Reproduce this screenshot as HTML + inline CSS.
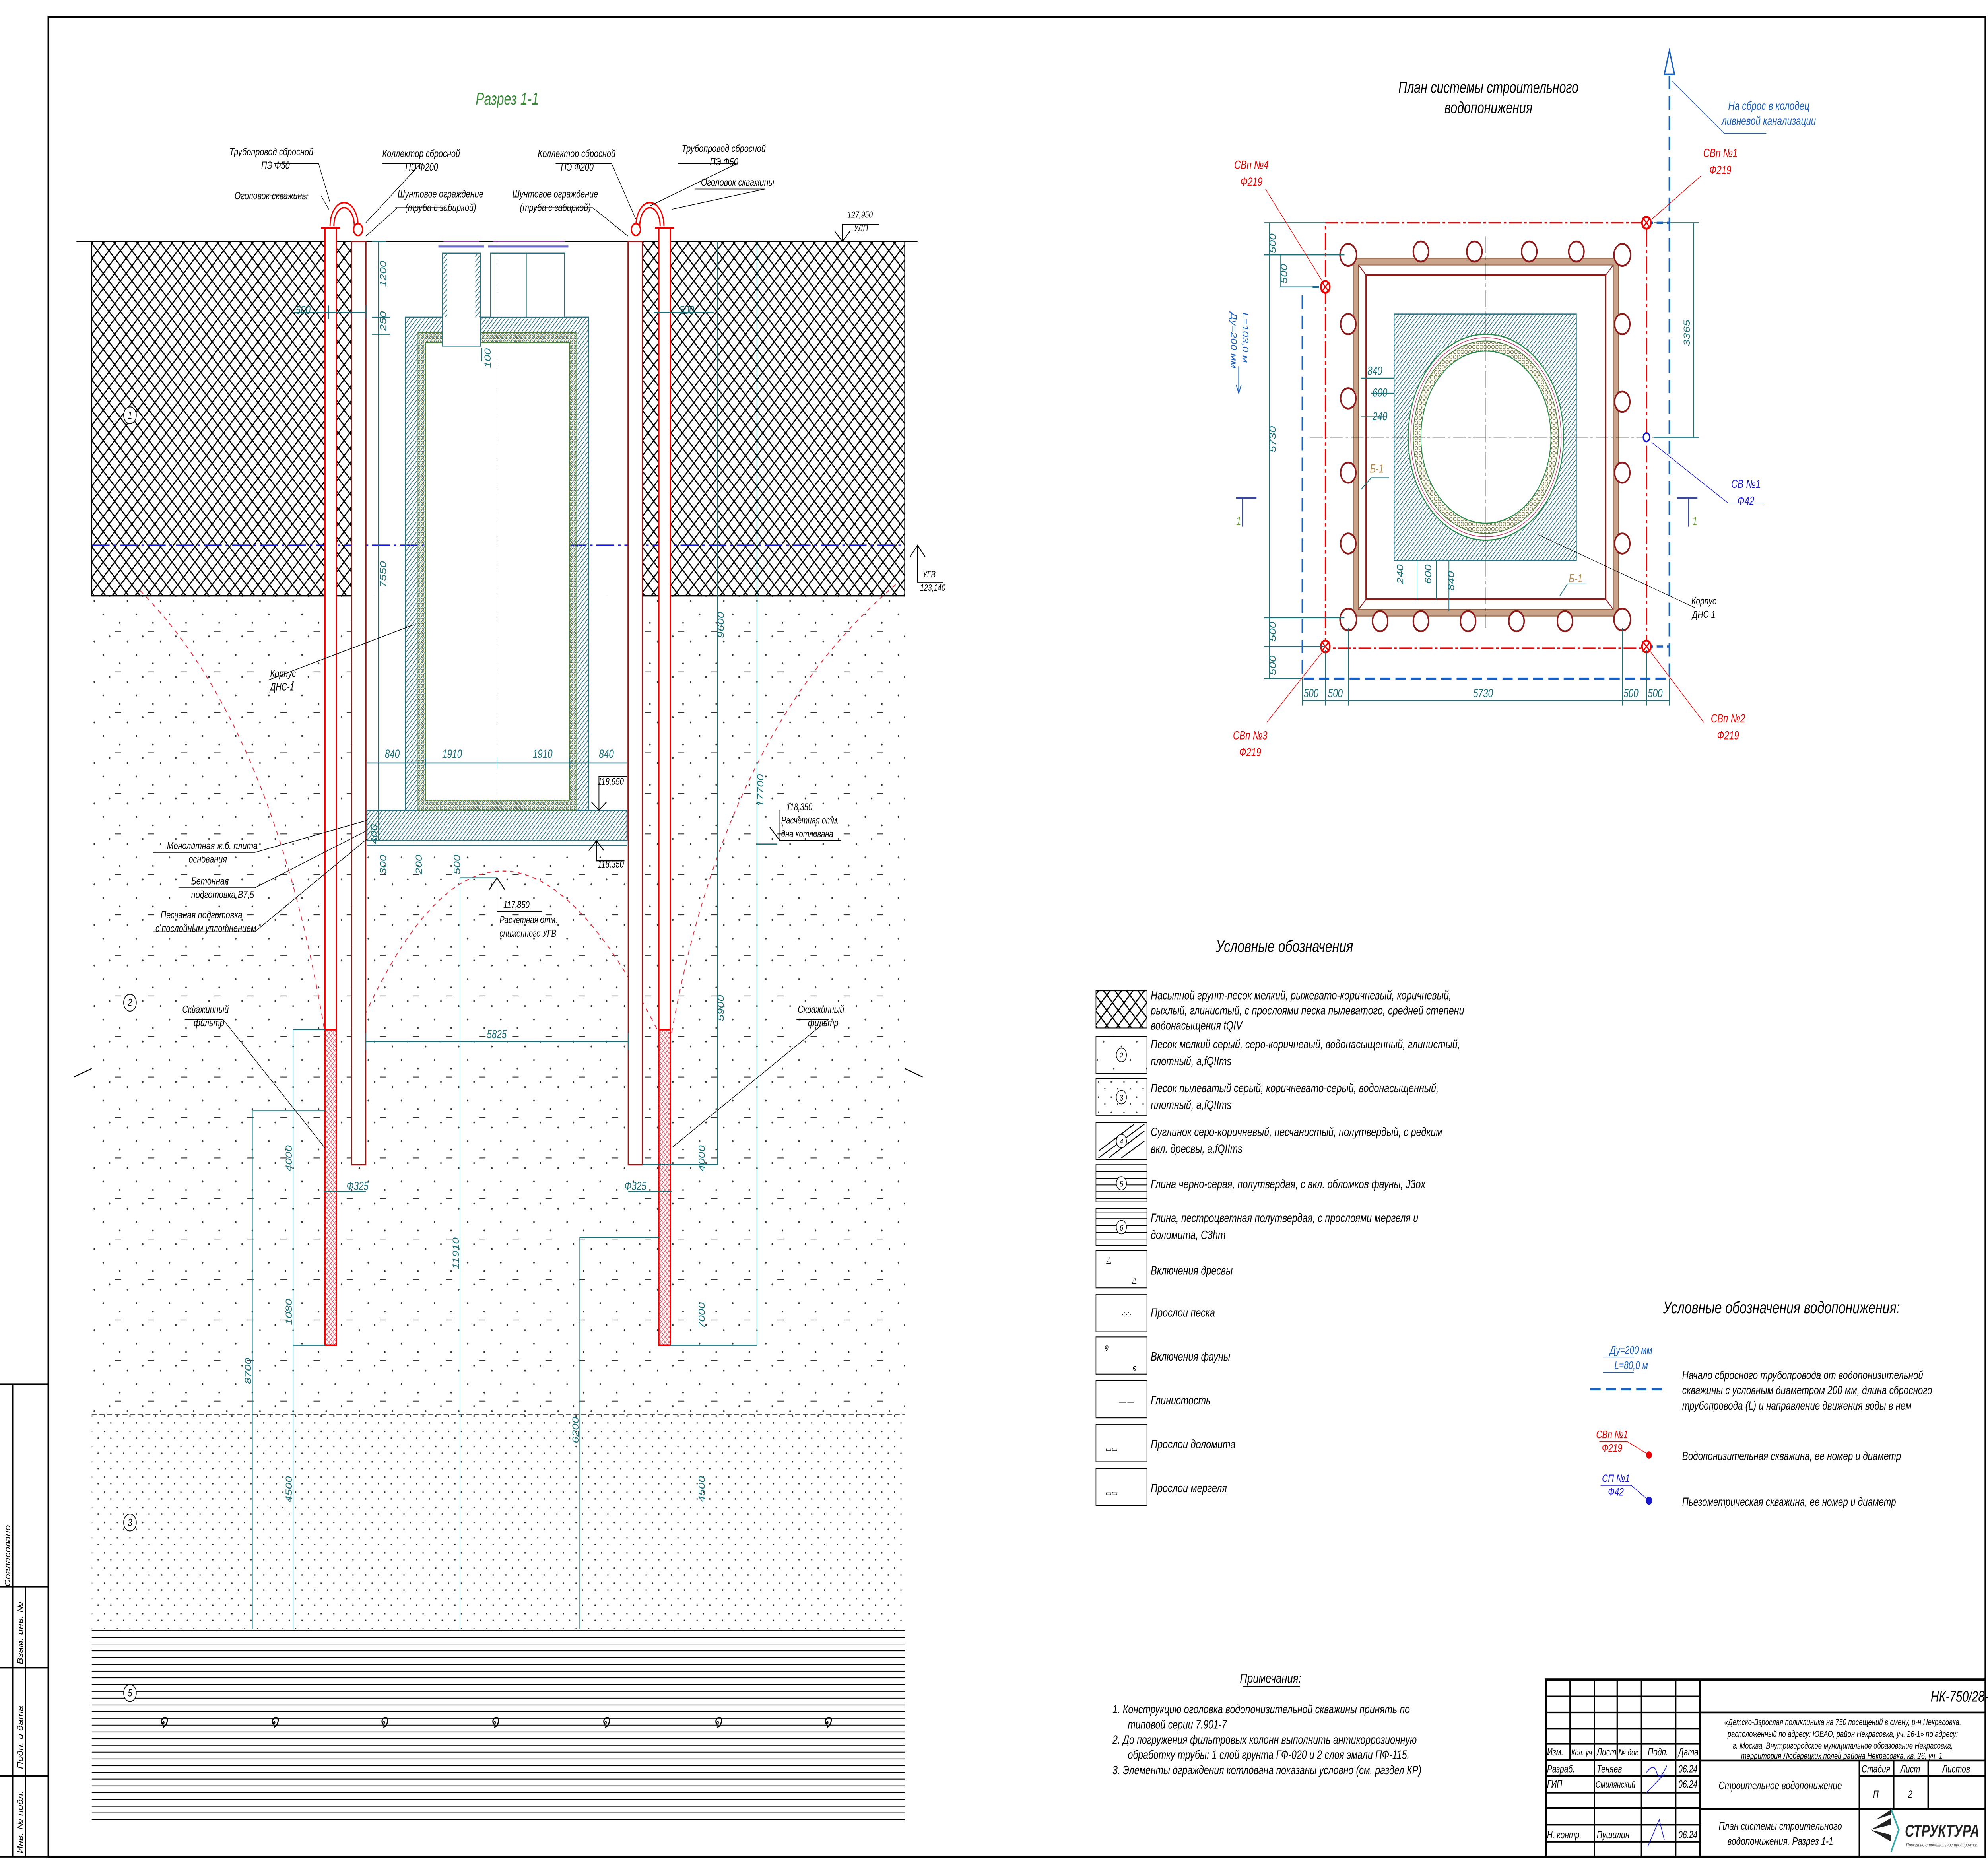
<!DOCTYPE html>
<html><head><meta charset="utf-8"><style>
html,body{margin:0;padding:0;background:#fff;overflow:hidden;width:100vw;height:100vh}
svg{display:block;position:absolute;left:0;top:0;width:100vw;height:100vh}
text{font-family:"Liberation Sans",sans-serif;font-style:italic}
</style></head><body>
<svg viewBox="0 0 1560 1101.9" preserveAspectRatio="none" xmlns="http://www.w3.org/2000/svg">
<defs>
<pattern id="xh" width="9" height="9" patternUnits="userSpaceOnUse"><path d="M0 0L9 9M9 0L0 9" stroke="#000" stroke-width="0.8"/></pattern>
<pattern id="sand" width="26" height="24" patternUnits="userSpaceOnUse"><circle cx="3" cy="4" r="0.6" fill="#333"/><circle cx="16" cy="9" r="0.6" fill="#333"/><circle cx="8" cy="17" r="0.6" fill="#333"/><circle cx="22" cy="20" r="0.6" fill="#333"/><path d="M12 14h5" stroke="#333" stroke-width="0.5"/></pattern>
<pattern id="sand3" width="10" height="9" patternUnits="userSpaceOnUse"><circle cx="2" cy="2" r="0.5" fill="#333"/><circle cx="7" cy="6" r="0.5" fill="#333"/></pattern>
<pattern id="th" width="3" height="3" patternUnits="userSpaceOnUse"><path d="M0 3L3 0" stroke="#2a6f80" stroke-width="0.5"/></pattern>
<pattern id="hc" width="3" height="3" patternUnits="userSpaceOnUse"><circle cx="1.5" cy="1.5" r="1.1" fill="none" stroke="#6b6b2a" stroke-width="0.35"/></pattern>
<pattern id="rh" width="3" height="3" patternUnits="userSpaceOnUse"><path d="M0 3L3 0M0 0L3 3" stroke="#e05060" stroke-width="0.35"/></pattern>
<pattern id="hl" width="10" height="4" patternUnits="userSpaceOnUse"><path d="M0 2h10" stroke="#000" stroke-width="0.5"/></pattern>
</defs>

<rect x="38" y="10" width="1520" height="1090" fill="none" stroke="#000" stroke-width="1.4"/>
<g stroke="#000" stroke-width="0.9" fill="none">
<path d="M0 820H38M0 940H38M0 988H38M0 1052H38M0 1100H38M10 820V1100M20 940V1100"/>
</g>
<g font-size="6" fill="#000">
<text transform="translate(8,940) rotate(-90)">Согласовано</text>
<text transform="translate(18,986) rotate(-90)">Взам. инв. №</text>
<text transform="translate(18,1048) rotate(-90)">Подп. и дата</text>
<text transform="translate(18,1098) rotate(-90)">Инв. № подл.</text>
</g>

<text x="398" y="62" font-size="10" fill="#3a8a3a" text-anchor="middle">Разрез 1-1</text>

<rect x="72" y="353" width="638" height="485" fill="url(#sand)"/>
<rect x="287" y="353" width="206" height="145" fill="#fff"/>
<rect x="72" y="838" width="638" height="127" fill="url(#sand3)"/>
<path d="M72 838H710" stroke="#555" stroke-width="0.4" stroke-dasharray="4 2"/>
<rect x="72" y="965" width="638" height="115" fill="url(#hl)"/>
<rect x="72" y="143" width="215" height="210" fill="url(#xh)" stroke="#000" stroke-width="0.8"/>
<rect x="493" y="143" width="217" height="210" fill="url(#xh)" stroke="#000" stroke-width="0.8"/>
<path d="M60 143H720" stroke="#000" stroke-width="0.8"/>
<path d="M58 638L72 633M710 633L724 638" stroke="#000" stroke-width="0.6"/>
<g font-size="10" fill="#000">
<text x="125" y="1023">໑</text><text x="212" y="1023">໑</text><text x="298" y="1023">໑</text><text x="385" y="1023">໑</text><text x="472" y="1023">໑</text><text x="560" y="1023">໑</text><text x="646" y="1023">໑</text>
</g>
<g fill="#fff" stroke="#000" stroke-width="0.5">
<circle cx="102" cy="246" r="5"/><circle cx="102" cy="594" r="5"/><circle cx="102" cy="902" r="5"/><circle cx="102" cy="1003" r="5"/>
</g>
<g font-size="6" fill="#000" text-anchor="middle"><text x="102" y="248">1</text><text x="102" y="596">2</text><text x="102" y="904">3</text><text x="102" y="1005">5</text></g>

<path d="M72 323H710" stroke="#1a1acc" stroke-width="0.9" stroke-dasharray="14 3 2 3"/>
<path d="M714 330L720 323L726 330M720 323V345H740" stroke="#000" stroke-width="0.6" fill="none"/>
<text x="724" y="342" font-size="5.5">УГВ</text><text x="722" y="350" font-size="5.5">123,140</text>
<path d="M655 137L661 143L667 137M661 143V133H690" stroke="#000" stroke-width="0.6" fill="none"/>
<text x="665" y="129" font-size="5.5">127,950</text><text x="670" y="137" font-size="5.5">УДП</text>

<g fill="none" stroke="#e03040" stroke-width="0.6" stroke-dasharray="3 3">
<path d="M110 350Q215 430 255 612"/>
<path d="M280 612Q390 420 517 612"/>
<path d="M527 612Q570 430 705 345"/>
</g>

<path d="M287 143V498M493 143V498" stroke="#8b1a1a" stroke-width="1.2"/>

<g>
<rect x="255" y="135" width="9" height="662" fill="#fff" stroke="#e00" stroke-width="1"/>
<rect x="255" y="610" width="9" height="187" fill="url(#rh)" stroke="#e00" stroke-width="1"/>
<rect x="517" y="135" width="9" height="662" fill="#fff" stroke="#e00" stroke-width="1"/>
<rect x="517" y="610" width="9" height="187" fill="url(#rh)" stroke="#e00" stroke-width="1"/>
<rect x="276" y="143" width="11" height="547" fill="#fff" stroke="#8b1a1a" stroke-width="0.9"/>
<rect x="493" y="143" width="11" height="547" fill="#fff" stroke="#8b1a1a" stroke-width="0.9"/>
<path d="M259 134A11 14 0 0 1 281 134M262 134A8 11 0 0 1 278 134" fill="none" stroke="#e00" stroke-width="0.9"/>
<path d="M499 134A11 14 0 0 1 521 134M502 134A8 11 0 0 1 518 134" fill="none" stroke="#e00" stroke-width="0.9"/>
<circle cx="281" cy="136" r="3.5" fill="#fff" stroke="#e00"/><circle cx="499" cy="136" r="3.5" fill="#fff" stroke="#e00"/>
<path d="M252 135H267M514 135H529" stroke="#e00" stroke-width="1"/>
</g>

<rect x="288" y="480" width="204" height="18" fill="url(#th)" stroke="#2a6f80" stroke-width="0.7"/>
<rect x="288" y="498" width="204" height="3" fill="#fff" stroke="#2a6f80" stroke-width="0.5"/>
<rect x="318" y="188" width="144" height="292" fill="url(#th)" stroke="#2a6f80" stroke-width="0.7"/>
<rect x="328" y="197" width="124" height="283" fill="url(#hc)" stroke="#4a7a3a" stroke-width="0.5"/>
<rect x="334" y="203" width="113" height="271" fill="#fff" stroke="#4a7a3a" stroke-width="0.6"/>
<rect x="347" y="150" width="30" height="55" fill="#fff" stroke="#2a6f80" stroke-width="0.6"/>
<rect x="347" y="150" width="4" height="38" fill="url(#th)"/><rect x="373" y="150" width="4" height="38" fill="url(#th)"/>
<rect x="385" y="150" width="30" height="38" fill="#fff" stroke="#2a6f80" stroke-width="0.6"/>
<rect x="413" y="150" width="30" height="38" fill="#fff" stroke="#2a6f80" stroke-width="0.6"/>
<path d="M344 146H380M383 146H418M411 146H446" stroke="#6a6acc" stroke-width="1.2"/>
<path d="M348 143H376M387 143H415M415 143H443" stroke="#8a3a9a" stroke-width="0.6"/>
<path d="M390 143V475" stroke="#000" stroke-width="0.3" stroke-dasharray="10 2 1 2"/>

<g stroke="#1a6e78" stroke-width="0.6" fill="none">
<path d="M297 143V498M292 188H306M292 198H306M292 143H303M292 498H303"/>
<path d="M288 452H492M318 449V455M334 449V455M390 449V455M447 449V455M462 449V455"/>
<path d="M230 185H287M258 181V189M287 181V189"/>
<path d="M513 185H560"/>
<path d="M563 143V690M594 143V797M504 690H563M526 797H594M594 500H610"/>
<path d="M230 610V965M198 658V965M230 610H255M198 658H255M230 797H255"/>
<path d="M361 520V965M361 520H390M455 733V965M455 733H517"/>
<path d="M287 617H493M287 612V622M493 612V622"/>
<path d="M254 706H287"/><path d="M493 706H527"/>
<path d="M378 206V214"/>
</g>
<g font-size="7" fill="#1a6e78">
<text transform="translate(303,170) rotate(-90)">1200</text>
<text transform="translate(303,196) rotate(-90)">250</text>
<text transform="translate(303,348) rotate(-90)">7550</text>
<text transform="translate(385,218) rotate(-90)">100</text>
<text x="302" y="449">840</text><text x="347" y="449">1910</text><text x="418" y="449">1910</text><text x="470" y="449">840</text>
<text x="232" y="186">500</text><text x="533" y="186">500</text>
<text transform="translate(568,378) rotate(-90)">9600</text>
<text transform="translate(599,478) rotate(-90)">17700</text>
<text transform="translate(568,605) rotate(-90)">5900</text>
<text transform="translate(553,694) rotate(-90)">4000</text>
<text transform="translate(553,787) rotate(-90)">7000</text>
<text transform="translate(553,890) rotate(-90)">4500</text>
<text transform="translate(229,694) rotate(-90)">4000</text>
<text transform="translate(229,785) rotate(-90)">1080</text>
<text transform="translate(229,890) rotate(-90)">4500</text>
<text transform="translate(197,820) rotate(-90)">8700</text>
<text transform="translate(360,752) rotate(-90)">11910</text>
<text transform="translate(454,855) rotate(-90)">6200</text>
<text x="382" y="615">5825</text>
<text x="272" y="705">Ф325</text><text x="490" y="705">Ф325</text>
<text transform="translate(303,518) rotate(-90)">300</text>
<text transform="translate(331,518) rotate(-90)">200</text>
<text transform="translate(361,518) rotate(-90)">500</text>
<text transform="translate(296,500) rotate(-90)">400</text>
</g>
<g stroke="#000" stroke-width="0.6" fill="none">
<path d="M464 475L470 480L476 475M470 480V460H492"/>
<path d="M462 504L468 498L474 504M468 498V510H490"/>
<path d="M384 527L390 520L396 527M390 520V540H425"/>
<path d="M604 490L612 498M612 480V498H660"/>
</g>
<g font-size="5.8" fill="#000">
<text x="469" y="465">118,950</text><text x="469" y="514">118,350</text>
<text x="395" y="538">117,850</text><text x="392" y="547">Расчетная отм.</text><text x="392" y="555">сниженного УГВ</text>
<text x="617" y="480">118,350</text><text x="613" y="488">Расчетная отм.</text><text x="613" y="496">дна котлована</text>
</g>

<g stroke="#000" stroke-width="0.4" fill="none">
<path d="M215 97H250L259 120M300 97H330L287 132M242 116H212M252 116L258 124M310 123H350M312 123L287 140"/>
<path d="M420 123H465L493 140M436 97H480L499 130M532 97H578L510 122M545 112H600L527 124"/>
<path d="M120 505H200L288 486M140 526H200L288 492M120 552H200L288 497"/>
<path d="M210 403L325 370M145 604H175L255 680M625 604H650L527 680"/>
</g>
<g font-size="6.2" fill="#000">
<text x="180" y="92">Трубопровод сбросной</text><text x="205" y="100">ПЭ Ф50</text>
<text x="184" y="118">Оголовок скважины</text>
<text x="300" y="93">Коллектор сбросной</text><text x="318" y="101">ПЭ Ф200</text>
<text x="312" y="117">Шунтовое ограждение</text><text x="318" y="125">(труба с забиркой)</text>
<text x="422" y="93">Коллектор сбросной</text><text x="440" y="101">ПЭ Ф200</text>
<text x="402" y="117">Шунтовое ограждение</text><text x="408" y="125">(труба с забиркой)</text>
<text x="535" y="90">Трубопровод сбросной</text><text x="557" y="98">ПЭ Ф50</text>
<text x="550" y="110">Оголовок скважины</text>
<text x="212" y="401">Корпус</text><text x="212" y="409">ДНС-1</text>
<text x="131" y="503">Монолитная ж.б. плита</text><text x="148" y="511">основания</text>
<text x="150" y="524">Бетонная</text><text x="150" y="532">подготовка В7,5</text>
<text x="126" y="544">Песчаная подготовка</text><text x="122" y="552">с послойным уплотнением</text>
<text x="143" y="600">Скважинный</text><text x="152" y="608">фильтр</text>
<text x="626" y="600">Скважинный</text><text x="634" y="608">фильтр</text>
</g>

<text x="1168" y="55" font-size="9.5" fill="#000" text-anchor="middle">План системы строительного</text>
<text x="1168" y="67" font-size="9.5" fill="#000" text-anchor="middle">водопонижения</text>
<path d="M1310 45V402H1022V174" stroke="#1a5fc0" stroke-width="1.3" fill="none" stroke-dasharray="8 4"/>
<path d="M1292 132H1310M1292 383H1310M1030 170H1040" stroke="#1a5fc0" stroke-width="1.3" stroke-dasharray="5 3"/>
<path d="M1306 44L1310 30L1314 44Z" fill="none" stroke="#1a5fc0" stroke-width="1"/>
<path d="M1312 48L1353 79H1386" stroke="#1a5fc0" stroke-width="0.4" fill="none"/>
<text x="1388" y="65" font-size="7" fill="#1a5fc0" text-anchor="middle">На сброс в колодец</text>
<text x="1388" y="74" font-size="7" fill="#1a5fc0" text-anchor="middle">ливневой канализации</text>

<rect x="1040" y="132" width="252" height="252" fill="none" stroke="#e00" stroke-width="0.9" stroke-dasharray="10 2 2 2"/>
<rect x="1062" y="153" width="208" height="212" fill="#c9a48a" stroke="#8b5a3a" stroke-width="0.5"/>
<rect x="1066" y="157" width="200" height="204" fill="#fff" stroke="#8b5a3a" stroke-width="0.5"/>
<rect x="1072" y="163" width="188" height="192" fill="none" stroke="#8b1a1a" stroke-width="1.1"/>
<path d="M1066 157L1072 163M1266 157L1260 163M1066 361L1072 355M1266 361L1260 355" stroke="#8b1a1a" stroke-width="0.6"/>
<rect x="1094" y="186" width="143" height="146" fill="url(#th)" stroke="#2a6f80" stroke-width="0.6"/>
<circle cx="1166" cy="259" r="61" fill="#fff" stroke="#2a8a4a" stroke-width="0.7"/>
<circle cx="1166" cy="259" r="59" fill="none" stroke="#c03060" stroke-width="0.4"/>
<circle cx="1166" cy="259" r="57" fill="url(#hc)" stroke="#4a7a3a" stroke-width="0.5"/>
<circle cx="1166" cy="259" r="51" fill="#fff" stroke="#2a8a4a" stroke-width="0.6"/>
<path d="M1166 140V372M1028 259H1300" stroke="#000" stroke-width="0.3" stroke-dasharray="10 2 2 2"/>
<g fill="#fff" stroke="#8b1a1a" stroke-width="1.1">
<circle cx="1058" cy="151" r="6.5"/><circle cx="1115" cy="149" r="6"/><circle cx="1157" cy="149" r="6"/><circle cx="1200" cy="149" r="6"/><circle cx="1237" cy="149" r="6"/><circle cx="1273" cy="151" r="6.5"/>
<circle cx="1058" cy="192" r="6"/><circle cx="1058" cy="236" r="6"/><circle cx="1058" cy="280" r="6"/><circle cx="1058" cy="322" r="6"/>
<circle cx="1273" cy="192" r="6"/><circle cx="1273" cy="238" r="6"/><circle cx="1273" cy="280" r="6"/><circle cx="1273" cy="322" r="6"/>
<circle cx="1058" cy="367" r="6.5"/><circle cx="1083" cy="368" r="6"/><circle cx="1115" cy="368" r="6"/><circle cx="1152" cy="368" r="6"/><circle cx="1190" cy="368" r="6"/><circle cx="1228" cy="368" r="6"/><circle cx="1273" cy="367" r="6.5"/>
</g>
<g fill="#fff" stroke="#e00" stroke-width="1.2">
<circle cx="1040" cy="170" r="3.5"/><circle cx="1292" cy="132" r="3.5"/><circle cx="1040" cy="383" r="3.5"/><circle cx="1292" cy="383" r="3.5"/>
</g>
<path d="M1037 167L1043 173M1043 167L1037 173M1289 129L1295 135M1295 129L1289 135M1037 380L1043 386M1043 380L1037 386M1289 380L1295 386M1295 380L1289 386" stroke="#e00" stroke-width="0.8"/>
<circle cx="1292" cy="259" r="2.5" fill="#fff" stroke="#1a1acc" stroke-width="1"/>
<g stroke="#1a6e78" stroke-width="0.6" fill="none">
<path d="M996 132V402M992 132H1040M992 151H1055M992 366H1055M992 383H1040M992 402H1022M1005 151V170H1035"/>
<path d="M1022 415H1310M1022 402V418M1040 385V418M1058 372V418M1273 372V418M1292 385V418M1310 402V418"/>
<path d="M1329 132V259M1298 132H1333M1298 259H1333"/>
<path d="M1068 224H1094M1076 233H1094M1068 247H1088M1112 332V355M1127 332V355M1137 332V362"/>
</g>
<g font-size="7" fill="#1a6e78">
<text transform="translate(1001,150) rotate(-90)">500</text>
<text transform="translate(1010,168) rotate(-90)">500</text>
<text transform="translate(1001,268) rotate(-90)">5730</text>
<text transform="translate(1001,380) rotate(-90)">500</text>
<text transform="translate(1001,400) rotate(-90)">500</text>
<text x="1023" y="413">500</text><text x="1042" y="413">500</text><text x="1156" y="413">5730</text><text x="1274" y="413">500</text><text x="1293" y="413">500</text>
<text transform="translate(1326,205) rotate(-90)">3365</text>
<text x="1073" y="222">840</text><text x="1077" y="235">600</text><text x="1077" y="249">240</text>
<text transform="translate(1101,346) rotate(-90)">240</text>
<text transform="translate(1123,346) rotate(-90)">600</text>
<text transform="translate(1141,350) rotate(-90)">840</text>
</g>
<g font-size="7" fill="#b08a50"><text x="1075" y="280">Б-1</text><text x="1231" y="345">Б-1</text></g>
<path d="M1068 290L1076 283H1090M1224 353L1230 346H1245" stroke="#1a6e78" stroke-width="0.5" fill="none"/>
<g stroke="#3a4aa0" stroke-width="1" fill="none"><path d="M970 295H986M975 295V312M1316 295H1332M1325 295V312"/></g>
<g font-size="7" fill="#6a9a3a"><text x="970" y="311">1</text><text x="1328" y="311">1</text></g>
<text transform="translate(966,185) rotate(90)" font-size="6.5" fill="#1a5fc0">Ду=200 мм</text>
<text transform="translate(975,185) rotate(90)" font-size="6.5" fill="#1a5fc0">L=103,0 м</text>
<path d="M972 217V232M970 228L972 233L974 228" stroke="#1a5fc0" stroke-width="0.6" fill="none"/>
<g stroke="#e00" stroke-width="0.4" fill="none"><path d="M993 112L1038 167M1335 104L1296 130M994 428L1038 386M1337 428L1295 386"/></g>
<path d="M1296 262L1356 298H1385" stroke="#1a1acc" stroke-width="0.4" fill="none"/>
<path d="M1205 316L1330 360" stroke="#000" stroke-width="0.3"/>
<g font-size="7" fill="#e00" text-anchor="middle">
<text x="982" y="100">СВп №4</text><text x="982" y="110">Ф219</text>
<text x="1350" y="93">СВп №1</text><text x="1350" y="103">Ф219</text>
<text x="981" y="438">СВп №3</text><text x="981" y="448">Ф219</text>
<text x="1356" y="428">СВп №2</text><text x="1356" y="438">Ф219</text>
</g>
<g font-size="7" fill="#1a1acc" text-anchor="middle"><text x="1370" y="289">СВ №1</text><text x="1370" y="299">Ф42</text></g>
<g font-size="6" fill="#000" text-anchor="middle"><text x="1337" y="358">Корпус</text><text x="1337" y="366">ДНС-1</text></g>

<text x="1008" y="564" font-size="10" fill="#000" text-anchor="middle">Условные обозначения</text>
<g stroke="#000" stroke-width="0.5">
<rect x="860" y="587" width="40" height="22" fill="url(#xh)"/>
<rect x="860" y="614" width="40" height="22" fill="url(#sand)"/>
<rect x="860" y="639" width="40" height="22" fill="url(#sand3)"/>
<rect x="860" y="665" width="40" height="22" fill="#fff"/>
<rect x="860" y="690" width="40" height="22" fill="url(#hl)"/>
<rect x="860" y="716" width="40" height="22" fill="url(#hl)"/>
<rect x="860" y="741" width="40" height="22" fill="#fff"/>
<rect x="860" y="767" width="40" height="22" fill="#fff"/>
<rect x="860" y="792" width="40" height="22" fill="#fff"/>
<rect x="860" y="818" width="40" height="22" fill="#fff"/>
<rect x="860" y="844" width="40" height="22" fill="#fff"/>
<rect x="860" y="870" width="40" height="22" fill="#fff"/>
</g>
<path d="M862 686L898 666M870 686L898 670M862 682L890 666M880 686L898 676" stroke="#000" stroke-width="0.6"/>
<g fill="#fff" stroke="#000" stroke-width="0.4"><circle cx="880" cy="625" r="4"/><circle cx="880" cy="650" r="4"/><circle cx="880" cy="676" r="4"/><circle cx="880" cy="701" r="4"/><circle cx="880" cy="727" r="4"/></g>
<g font-size="5" fill="#000" text-anchor="middle"><text x="880" y="627">2</text><text x="880" y="652">3</text><text x="880" y="678">4</text><text x="880" y="703">5</text><text x="880" y="729">6</text>
<text x="870" y="748">△</text><text x="890" y="760">△</text><text x="884" y="780">·:·:·</text><text x="868" y="800">໑</text><text x="890" y="812">໑</text><text x="884" y="832">— —</text><text x="872" y="860">▭▭</text><text x="872" y="886">▭▭</text></g>
<g font-size="7.3" fill="#000">
<text x="903" y="592">Насыпной грунт-песок мелкий, рыжевато-коричневый, коричневый,</text>
<text x="903" y="601">рыхлый, глинистый, с прослоями песка пылеватого, средней степени</text>
<text x="903" y="610">водонасыщения tQIV</text>
<text x="903" y="621">Песок мелкий серый, серо-коричневый, водонасыщенный, глинистый,</text>
<text x="903" y="631">плотный, a,fQIIms</text>
<text x="903" y="647">Песок пылеватый серый, коричневато-серый, водонасыщенный,</text>
<text x="903" y="657">плотный, a,fQIIms</text>
<text x="903" y="673">Суглинок серо-коричневый, песчанистый, полутвердый, с редким</text>
<text x="903" y="683">вкл. дресвы, a,fQIIms</text>
<text x="903" y="704">Глина черно-серая, полутвердая, с вкл. обломков фауны, J3ox</text>
<text x="903" y="724">Глина, пестроцветная полутвердая, с прослоями мергеля и</text>
<text x="903" y="734">доломита, C3hm</text>
<text x="903" y="755">Включения дресвы</text>
<text x="903" y="780">Прослои песка</text>
<text x="903" y="806">Включения фауны</text>
<text x="903" y="832">Глинистость</text>
<text x="903" y="858">Прослои доломита</text>
<text x="903" y="884">Прослои мергеля</text>
</g>

<text x="1398" y="778" font-size="10" fill="#000" text-anchor="middle">Условные обозначения водопонижения:</text>
<path d="M1248 823H1305" stroke="#1a5fc0" stroke-width="1.5" stroke-dasharray="8 4"/>
<path d="M1258 804H1282M1258 813H1282" stroke="#1a5fc0" stroke-width="0.4"/>
<text x="1280" y="802" font-size="6.5" fill="#1a5fc0" text-anchor="middle">Ду=200 мм</text>
<text x="1280" y="811" font-size="6.5" fill="#1a5fc0" text-anchor="middle">L=80,0 м</text>
<g font-size="7" fill="#000">
<text x="1320" y="817">Начало сбросного трубопровода от водопонизительной</text>
<text x="1320" y="826">скважины с условным диаметром 200 мм, длина сбросного</text>
<text x="1320" y="835">трубопровода (L) и направление движения воды в нем</text>
<text x="1320" y="865">Водопонизительная скважина, ее номер и диаметр</text>
<text x="1320" y="892">Пьезометрическая скважина, ее номер и диаметр</text>
</g>
<text x="1265" y="852" font-size="6.5" fill="#e00" text-anchor="middle">СВп №1</text>
<text x="1265" y="860" font-size="6.5" fill="#e00" text-anchor="middle">Ф219</text>
<path d="M1255 854H1277L1294 862" stroke="#e00" stroke-width="0.4" fill="none"/>
<circle cx="1294" cy="862" r="2.2" fill="#e00"/>
<text x="1268" y="878" font-size="6.5" fill="#1a1acc" text-anchor="middle">СП №1</text>
<text x="1268" y="886" font-size="6.5" fill="#1a1acc" text-anchor="middle">Ф42</text>
<path d="M1256 880H1280L1294 889" stroke="#1a1acc" stroke-width="0.4" fill="none"/>
<circle cx="1294" cy="889" r="2.4" fill="#1a1acc"/>

<text x="997" y="997" font-size="8" fill="#000" text-anchor="middle">Примечания:</text>
<path d="M975 999H1020" stroke="#000" stroke-width="0.5"/>
<g font-size="7.2" fill="#000">
<text x="873" y="1015">1.  Конструкцию оголовка водопонизительной скважины принять по</text>
<text x="885" y="1024">типовой серии 7.901-7</text>
<text x="873" y="1033">2.  До погружения фильтровых колонн выполнить антикоррозионную</text>
<text x="885" y="1042">обработку трубы: 1 слой грунта ГФ-020 и 2 слоя эмали ПФ-115.</text>
<text x="873" y="1051">3.  Элементы ограждения котлована показаны условно (см. раздел КР)</text>
</g>

<g stroke="#000" fill="none">
<rect x="1213" y="995" width="345" height="105" stroke-width="1.4"/>
<path d="M1334 995V1100M1334 1014.5H1558M1334 1043H1558M1334 1071.5H1558M1459 1043V1100M1459 1052H1558M1486 1043V1071.5M1513 1043V1071.5" stroke-width="1.1"/>
<path d="M1213 1005H1334M1213 1014.5H1334M1213 1024H1334M1213 1033H1334M1213 1042.5H1334M1213 1052H1334M1213 1062H1334M1213 1071H1334M1213 1081H1334M1213 1091H1334" stroke-width="1"/>
<path d="M1232 995V1042.5M1269 995V1042.5M1251 995V1100M1288 995V1100M1315 995V1100" stroke-width="1"/>
</g>
<g font-size="6" fill="#000">
<text x="1214" y="1040">Изм.</text><text x="1233" y="1040" font-size="5">Кол. уч</text><text x="1253" y="1040">Лист</text><text x="1270" y="1040" font-size="5.3">№ док.</text><text x="1293" y="1040">Подп.</text><text x="1317" y="1040">Дата</text>
<text x="1214" y="1050">Разраб.</text><text x="1253" y="1050">Теняев</text><text x="1317" y="1050">06.24</text>
<text x="1214" y="1059">ГИП</text><text x="1252" y="1059" font-size="5.5">Смилянский</text><text x="1317" y="1059">06.24</text>
<text x="1214" y="1089">Н. контр.</text><text x="1253" y="1089">Пушилин</text><text x="1317" y="1089">06.24</text>
</g>
<path d="M1292 1050Q1298 1044 1300 1050T1308 1046M1292 1062L1306 1051M1293 1094L1302 1078L1306 1090" stroke="#1a1acc" stroke-width="0.5" fill="none"/>
<text x="1515" y="1008" font-size="9" fill="#000">НК-750/28-02-ПОС.2</text>
<g font-size="5.2" fill="#000" text-anchor="middle">
<text x="1446" y="1022">«Детско-Взрослая поликлиника на 750 посещений в смену, р-н Некрасовка,</text>
<text x="1446" y="1029">расположенный по адресу: ЮВАО, район Некрасовка, уч. 26-1» по адресу:</text>
<text x="1446" y="1036">г. Москва, Внутригородское муниципальное образование Некрасовка,</text>
<text x="1446" y="1042">территория Люберецких полей района Некрасовка, кв. 26, уч. 1.</text>
</g>
<text x="1397" y="1060" font-size="6.5" fill="#000" text-anchor="middle">Строительное водопонижение</text>
<g font-size="6" fill="#000" text-anchor="middle"><text x="1472" y="1050">Стадия</text><text x="1499" y="1050">Лист</text><text x="1535" y="1050">Листов</text>
<text x="1472" y="1065">П</text><text x="1499" y="1065">2</text></g>
<text x="1397" y="1084" font-size="6.5" fill="#000" text-anchor="middle">План системы строительного</text>
<text x="1397" y="1093" font-size="6.5" fill="#000" text-anchor="middle">водопонижения. Разрез 1-1</text>
<path d="M1468 1084L1484 1077L1484 1081ZM1468 1084L1484 1087L1484 1091ZM1472 1078L1484 1072L1484 1075Z" fill="#222"/>
<path d="M1484 1072L1490 1084L1484 1097" stroke="#3aa8a8" stroke-width="1.2" fill="none"/>
<text x="1524" y="1088" font-size="10" fill="#222" text-anchor="middle" font-style="normal" font-weight="bold">СТРУКТУРА</text>
<text x="1524" y="1094" font-size="3" fill="#555" text-anchor="middle">Проектно-строительное предприятие</text>
<text x="1490" y="1108" font-size="6.5" fill="#000" text-anchor="middle">формат А1</text>
</svg>
</body></html>
